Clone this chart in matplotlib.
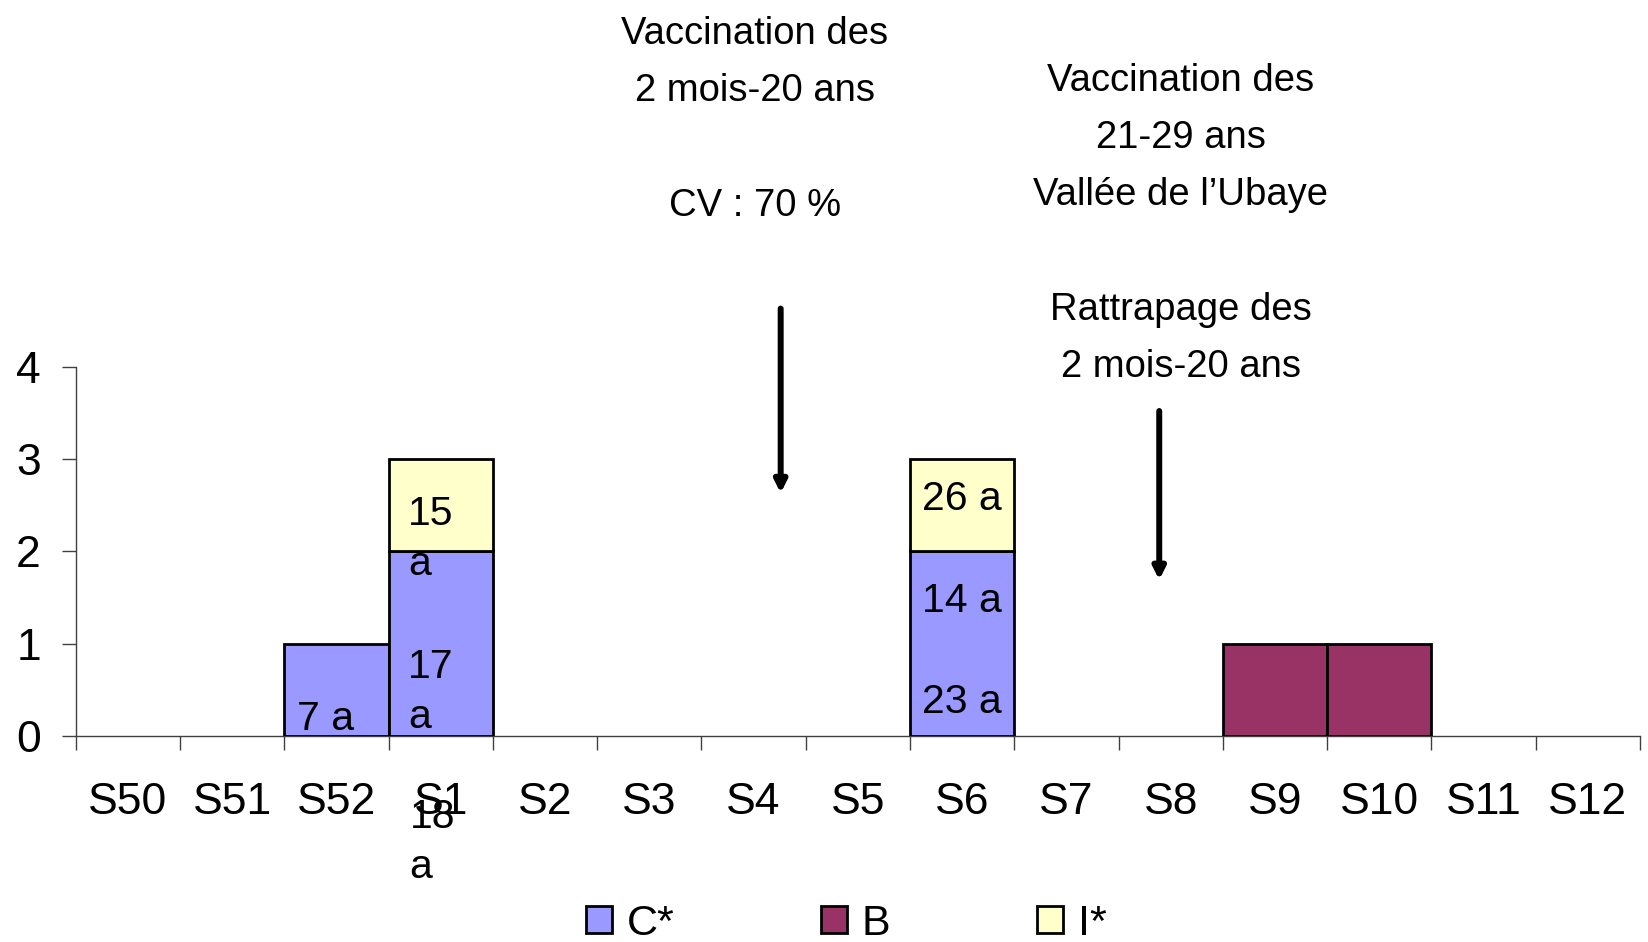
import numpy as np
import matplotlib
matplotlib.use("Agg")
import matplotlib.pyplot as plt
from matplotlib.patches import Patch

# ---------------- data ----------------
categories = ['S50', 'S51', 'S52', 'S1', 'S2', 'S3', 'S4', 'S5', 'S6',
              'S7', 'S8', 'S9', 'S10', 'S11', 'S12']
cases_C = [0, 0, 1, 2, 0, 0, 0, 0, 2, 0, 0, 0, 0, 0, 0]
cases_B = [0, 0, 0, 0, 0, 0, 0, 0, 0, 0, 0, 1, 1, 0, 0]
cases_I = [0, 0, 0, 1, 0, 0, 0, 0, 1, 0, 0, 0, 0, 0, 0]
series_names = ['C*', 'B', 'I*']
yticks = [0, 1, 2, 3, 4]

annot_left = "Vaccination des\n2 mois-20 ans\n\nCV : 70 %"
annot_right = "Vaccination des\n21-29 ans\nVallée de l\u2019Ubaye\n\nRattrapage des\n2 mois-20 ans"

# ---------------- style ----------------
col_C = '#9999FF'
col_B = '#993366'
col_I = '#FFFFCC'
plt.rcParams['font.family'] = ['Liberation Sans', 'DejaVu Sans']

W, H = 1649, 942
fig = plt.figure(figsize=(W / 100, H / 100), dpi=100)
ax = fig.add_axes([75.7 / W, 1 - 736 / H, (1640 - 75.7) / W, (736 - 366.7) / H])

x = np.arange(len(categories))
C = np.array(cases_C, float)
B = np.array(cases_B, float)
I = np.array(cases_I, float)

def draw(vals, bottom, color):
    m = vals > 0
    ax.bar(x[m], vals[m], width=1.0, bottom=bottom[m], color=color,
           edgecolor='black', linewidth=2.0, zorder=3)

draw(C, np.zeros_like(C), col_C)
draw(B, C, col_B)
draw(I, C + B, col_I)

ax.set_xlim(-0.5, len(categories) - 0.5)
ax.set_ylim(0, 4)
for s in ['top', 'right']:
    ax.spines[s].set_visible(False)
for s in ['left', 'bottom']:
    ax.spines[s].set_color('#404040')
    ax.spines[s].set_linewidth(1.0)

ax.set_yticks(yticks)
ax.set_yticklabels([str(v) for v in yticks])
ax.tick_params(axis='y', length=10, width=1, color='#404040', pad=15,
               labelsize=32)
ax.set_xticks(x)
ax.set_xticklabels(categories)
ax.set_xticks(np.arange(len(categories) + 1) - 0.5, minor=True)
ax.tick_params(axis='x', which='major', length=0, pad=33, labelsize=32)
ax.tick_params(axis='x', which='minor', length=10, width=1, color='#404040')

# ---------------- bar labels (va=baseline -> last line's baseline) ----------------
lab_kw = dict(fontsize=29.5, va='baseline', linespacing=1.4, zorder=5,
              clip_on=False)
ax.text(2 - 0.378, 0.065, "7 a", ha='left', **lab_kw)
ax.text(3 - 0.314, 0.087, "17\na", ha='left', **lab_kw)
ax.text(3 - 0.300, -1.538, "18\na", ha='left', **lab_kw)
ax.text(3 - 0.314, 1.744, "15\na", ha='left', **lab_kw)
ax.text(8, 0.245, "23 a", ha='center', **lab_kw)
ax.text(8, 1.347, "14 a", ha='center', **lab_kw)
ax.text(8, 2.449, "26 a", ha='center', **lab_kw)

# ---------------- annotations ----------------
fig.text(755 / W, 1 - 216 / H, annot_left, ha='center', va='baseline',
         multialignment='center', fontsize=27.5, linespacing=1.76)
fig.text(1181 / W, 1 - 377 / H, annot_right, ha='center', va='baseline',
         multialignment='center', fontsize=27.5, linespacing=1.76)

arrow_kw = dict(arrowstyle='-|>,head_length=0.7,head_width=0.35',
                color='black', lw=4.3, shrinkA=0, shrinkB=0,
                mutation_scale=10)
ax.annotate('', xy=(6.26, 2.63), xytext=(6.26, 4.63),
            arrowprops=arrow_kw, annotation_clip=False)
ax.annotate('', xy=(9.89, 1.69), xytext=(9.89, 3.52),
            arrowprops=arrow_kw, annotation_clip=False)

# ---------------- legend ----------------
handles = [Patch(facecolor=c, edgecolor='black', linewidth=2.0)
           for c in (col_C, col_B, col_I)]
fig.legend(handles, series_names, loc='center left',
           bbox_to_anchor=(586 / W, 1 - 924 / H), ncol=3, frameon=False,
           borderpad=0, borderaxespad=0, handlelength=0.6,
           handleheight=0.6, handletextpad=0.35, columnspacing=3.4,
           prop=dict(size=31))

fig.savefig('out.png', dpi=100)
